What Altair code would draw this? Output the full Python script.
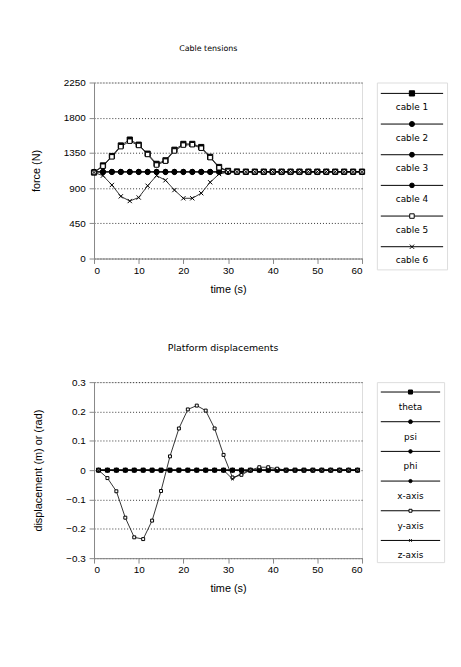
import altair as alt
import pandas as pd

# ---------------- data ----------------
t_cable = [0, 2, 4, 6, 8, 10, 12, 14, 16, 18, 20, 22, 24, 26, 28, 30,
           32, 34, 36, 38, 40, 42, 44, 46, 48, 50, 52, 54, 56, 58, 60]
cable_1 = [1100, 1190, 1310, 1445, 1520, 1455, 1340, 1210, 1255, 1390, 1465, 1465, 1425, 1300, 1170, 1120,
           1112, 1110, 1110, 1110, 1110, 1110, 1110, 1110, 1110, 1110, 1110, 1110, 1110, 1110, 1110]
cable_2 = [1105, 1105, 1105, 1105, 1105, 1105, 1105, 1105, 1105, 1105, 1105, 1105, 1105, 1105, 1105, 1105,
           1105, 1105, 1105, 1105, 1105, 1105, 1105, 1105, 1105, 1105, 1105, 1105, 1105, 1105, 1105]
cable_3 = [1110, 1110, 1110, 1110, 1110, 1110, 1110, 1110, 1110, 1110, 1110, 1110, 1110, 1110, 1110, 1110,
           1110, 1110, 1110, 1110, 1110, 1110, 1110, 1110, 1110, 1110, 1110, 1110, 1110, 1110, 1110]
cable_4 = [1108, 1108, 1108, 1108, 1108, 1108, 1108, 1108, 1108, 1108, 1108, 1108, 1108, 1108, 1108, 1108,
           1108, 1108, 1108, 1108, 1108, 1108, 1108, 1108, 1108, 1108, 1108, 1108, 1108, 1108, 1108]
cable_5 = [1100, 1180, 1300, 1430, 1500, 1445, 1330, 1195, 1245, 1375, 1450, 1455, 1410, 1290, 1160, 1115,
           1110, 1110, 1110, 1110, 1110, 1110, 1110, 1110, 1110, 1110, 1110, 1110, 1110, 1110, 1110]
cable_6 = [1100, 1060, 940, 795, 735, 780, 930, 1060, 1000, 875, 770, 770, 835, 975, 1080, 1105,
           1110, 1110, 1110, 1110, 1110, 1110, 1110, 1110, 1110, 1110, 1110, 1110, 1110, 1110, 1110]
cable_names = ["cable 1", "cable 2", "cable 3", "cable 4", "cable 5", "cable 6"]
cable_values = [cable_1, cable_2, cable_3, cable_4, cable_5, cable_6]

t_disp = [1, 3, 5, 7, 9, 11, 13, 15, 17, 19, 21, 23, 25, 27, 29,
          31, 33, 35, 37, 39, 41, 43, 45, 47, 49, 51, 53, 55, 57, 59]
theta = [0.0, 0.0, 0.0, 0.0, 0.0, 0.0, 0.0, 0.0, 0.0, 0.0, 0.0, 0.0, 0.0, 0.0, 0.0,
         0.0, 0.0, 0.0, 0.0, 0.0, 0.0, 0.0, 0.0, 0.0, 0.0, 0.0, 0.0, 0.0, 0.0, 0.0]
psi = [0.0, 0.0, 0.0, 0.0, 0.0, 0.0, 0.0, 0.0, 0.0, 0.0, 0.0, 0.0, 0.0, 0.0, 0.0,
       0.0, 0.0, 0.0, 0.0, 0.0, 0.0, 0.0, 0.0, 0.0, 0.0, 0.0, 0.0, 0.0, 0.0, 0.0]
phi = [0.0, 0.0, 0.0, 0.0, 0.0, 0.0, 0.0, 0.0, 0.0, 0.0, 0.0, 0.0, 0.0, 0.0, 0.0,
       0.0, 0.0, 0.0, 0.0, 0.0, 0.0, 0.0, 0.0, 0.0, 0.0, 0.0, 0.0, 0.0, 0.0, 0.0]
x_axis = [0.0, 0.0, 0.0, 0.0, 0.0, 0.0, 0.0, 0.0, 0.0, 0.0, 0.0, 0.0, 0.0, 0.0, 0.0,
          0.0, 0.0, 0.0, 0.0, 0.0, 0.0, 0.0, 0.0, 0.0, 0.0, 0.0, 0.0, 0.0, 0.0, 0.0]
y_axis = [0.0, -0.027, -0.072, -0.162, -0.229, -0.235, -0.172, -0.071, 0.047, 0.142, 0.207, 0.22, 0.203, 0.142, 0.052,
          -0.025, -0.016, 0.0, 0.01, 0.01, 0.005, 0.0, 0.0, 0.0, 0.0, 0.0, 0.0, 0.0, 0.0, 0.0]
z_axis = [0.0, 0.0, 0.0, 0.0, 0.0, 0.0, 0.0, 0.0, 0.0, 0.0, 0.0, 0.0, 0.0, 0.0, 0.0,
          -0.03, -0.01, 0.0, 0.0, 0.0, 0.0, 0.0, 0.0, 0.0, 0.0, 0.0, 0.0, 0.0, 0.0, 0.0]
disp_names = ["theta", "psi", "phi", "x-axis", "y-axis", "z-axis"]
disp_values = [theta, psi, phi, x_axis, y_axis, z_axis]

x_ticks = [0, 10, 20, 30, 40, 50, 60]
force_ticks = [0, 450, 900, 1350, 1800, 2250]
disp_ticks = [-0.3, -0.2, -0.1, 0, 0.1, 0.2, 0.3]

# ---------------- styles ----------------
X_PATH = "M-1,-1L1,1M-1,1L1,-1"
shapes = ["square", "circle", "circle", "circle", "square", X_PATH]
fills = ["black", "black", "black", "black", "white", "black"]
sizes = [28, 7, 7, 7, 30, 26]
FONT = "DejaVu Sans"


def long_df(names, times, values):
    rows = []
    for n, vals in zip(names, values):
        for t, v in zip(times, vals):
            rows.append({"s": n, "t": t, "v": v})
    return pd.DataFrame(rows)


def plot(df, names, ydomain, yticks, ytitle, yfmt, title, tsize, tdx):
    base = alt.Chart(df).encode(
        x=alt.X("t:Q", scale=alt.Scale(domain=[0, 60], nice=False),
                axis=alt.Axis(values=x_ticks, title="time (s)", grid=False, format="d",
                              titleFontWeight="normal", titlePadding=8)),
        y=alt.Y("v:Q", scale=alt.Scale(domain=ydomain, nice=False, zero=False),
                axis=alt.Axis(values=yticks, title=ytitle, format=yfmt, grid=True,
                              gridDash=[1, 2], gridColor="black", gridWidth=0.8,
                              titleFontWeight="normal", titlePadding=22, labelPadding=4)),
        detail="s:N",
    )
    lines = base.mark_line(color="black", strokeWidth=0.8)
    pts = base.mark_point(filled=True, stroke="black", strokeWidth=1, opacity=1).encode(
        shape=alt.Shape("s:N", scale=alt.Scale(domain=names, range=shapes), legend=None),
        fill=alt.Fill("s:N", scale=alt.Scale(domain=names, range=fills), legend=None),
        size=alt.Size("s:N", scale=alt.Scale(domain=names, range=sizes), legend=None),
    )
    return alt.layer(lines, pts).properties(
        width=271, height=178,
        title=alt.TitleParams(title, fontSize=tsize, fontWeight="normal", font=FONT,
                              offset=25, dx=tdx),
    )


def legend(names, width, height, d0, d1, lab_off):
    ldf = pd.DataFrame({"s": names, "k": list(range(len(names)))})
    ldf["kl"] = ldf["k"] + lab_off
    yscale = alt.Scale(domain=[d0, d1], reverse=True, nice=False, zero=False)
    base = alt.Chart(ldf)
    rule = base.mark_rule(color="black", strokeWidth=1).encode(
        x=alt.value(4), x2=alt.value(width - 4),
        y=alt.Y("k:Q", scale=yscale, axis=None))
    pt = base.mark_point(filled=True, stroke="black", strokeWidth=1, opacity=1).encode(
        x=alt.value(width / 2),
        y=alt.Y("k:Q", scale=yscale, axis=None),
        shape=alt.Shape("s:N", scale=alt.Scale(domain=names, range=shapes), legend=None),
        fill=alt.Fill("s:N", scale=alt.Scale(domain=names, range=fills), legend=None),
        size=alt.Size("s:N", scale=alt.Scale(domain=names, range=sizes), legend=None),
    )
    txt = base.mark_text(fontSize=9, font=FONT, color="black").encode(
        x=alt.value(width / 2),
        y=alt.Y("kl:Q", scale=yscale, axis=None),
        text="s:N")
    return alt.layer(rule, pt, txt).properties(width=width, height=height)


top_plot = plot(long_df(cable_names, t_cable, cable_values), cable_names,
                [0, 2250], force_ticks, "force (N)", "d", "Cable tensions", 8, -20)
bot_plot = plot(long_df(disp_names, t_disp, disp_values), disp_names,
                [-0.3, 0.3], disp_ticks, "displacement (m) or (rad)", ".1~f",
                "Platform displacements", 9.5, -5)

top_leg = legend(cable_names, 71, 189, -0.355, 5.74, 0.45)
bot_leg = legend(disp_names, 68, 182, -0.333, 5.73, 0.5)

row1 = alt.hconcat(top_plot, top_leg, spacing=15, bounds="flush")
row2 = alt.hconcat(bot_plot, bot_leg, spacing=15, bounds="flush")

chart = alt.vconcat(row1, row2, spacing=48).properties(
    padding={"left": 22, "top": 33, "right": 5, "bottom": 5}
).configure_view(
    stroke="black", strokeWidth=1.2
).configure_axis(
    labelFont=FONT, titleFont=FONT, labelFontSize=9.5, titleFontSize=9,
    titleFontWeight="normal", labelColor="black", titleColor="black",
    tickColor="black", domainColor="black", tickSize=3,
).configure(background="white")

chart.save("out.html", embed_options={"renderer": "svg", "actions": False})
